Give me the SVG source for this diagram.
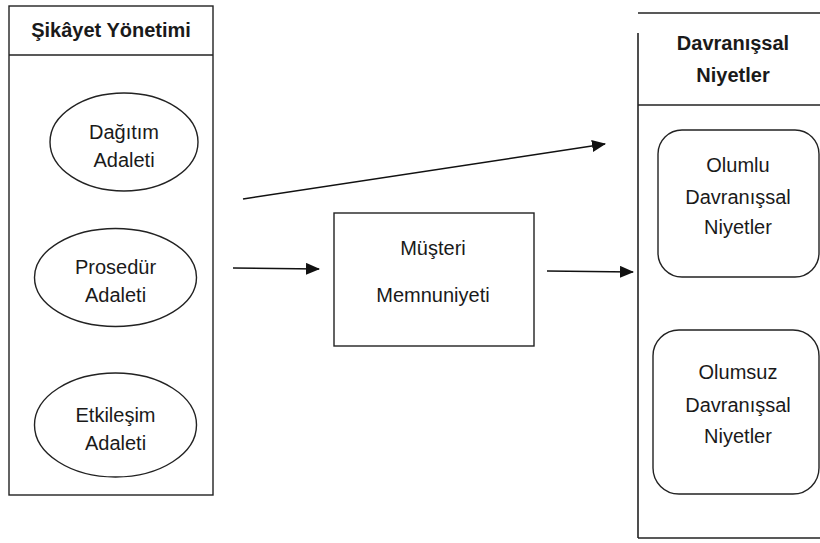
<svg xmlns="http://www.w3.org/2000/svg" width="820" height="543" viewBox="0 0 820 543">
<style>
.s{fill:none;stroke:#222;stroke-width:1.4}
.t{font-family:"Liberation Sans",Arial,sans-serif;font-size:20px;fill:#1a1a1a;text-anchor:middle}
.b{font-weight:bold}
.c{stroke:#111;stroke-width:1.5;fill:none}
</style>
<defs>
<marker id="ah" markerWidth="14" markerHeight="12" refX="13" refY="6" orient="auto" markerUnits="userSpaceOnUse">
<path d="M0,0 L14,6 L0,12 Z" fill="#111"/>
</marker>
</defs>
<rect width="820" height="543" fill="#fff"/>
<g id="sikayet">
<rect class="s" x="9" y="6" width="204" height="489"/>
<line class="s" x1="9" y1="55" x2="213" y2="55"/>
<text class="t b" x="111" y="37">Şikâyet Yönetimi</text>
</g>
<g id="dagitim">
<ellipse class="s" cx="124" cy="142" rx="74" ry="49"/>
<text class="t" x="124" y="139">Dağıtım</text>
<text class="t" x="124" y="167">Adaleti</text>
</g>
<g id="prosedur">
<ellipse class="s" cx="115.5" cy="277.5" rx="81" ry="49"/>
<text class="t" x="115.5" y="274">Prosedür</text>
<text class="t" x="115.5" y="302">Adaleti</text>
</g>
<g id="etkilesim">
<ellipse class="s" cx="115.5" cy="425" rx="81" ry="52"/>
<text class="t" x="115.5" y="422">Etkileşim</text>
<text class="t" x="115.5" y="450">Adaleti</text>
</g>
<g id="memnuniyet">
<rect class="s" x="334" y="213" width="200" height="133"/>
<text class="t" x="433" y="255">Müşteri</text>
<text class="t" x="433" y="302">Memnuniyeti</text>
</g>
<g id="davranissal">
<line class="s" x1="638" y1="13" x2="820" y2="13"/>
<line class="s" x1="638" y1="33" x2="638" y2="538" style="stroke-width:1.6"/>
<line class="s" x1="638" y1="538" x2="820" y2="538"/>
<line class="s" x1="638" y1="105" x2="820" y2="105"/>
<text class="t b" x="733" y="50">Davranışsal</text>
<text class="t b" x="733" y="82">Niyetler</text>
</g>
<g id="olumlu">
<rect class="s" x="658" y="130" width="161" height="147" rx="24" ry="24"/>
<text class="t" x="738" y="172">Olumlu</text>
<text class="t" x="738" y="204">Davranışsal</text>
<text class="t" x="738" y="234">Niyetler</text>
</g>
<g id="olumsuz">
<rect class="s" x="653" y="330" width="166" height="164" rx="26" ry="26"/>
<text class="t" x="738" y="379">Olumsuz</text>
<text class="t" x="738" y="412">Davranışsal</text>
<text class="t" x="738" y="443">Niyetler</text>
</g>
<g id="connectors">
<line class="c" x1="243" y1="199" x2="605" y2="144" marker-end="url(#ah)"/>
<line class="c" x1="233" y1="268" x2="319" y2="269" marker-end="url(#ah)"/>
<line class="c" x1="547" y1="271" x2="633" y2="272" marker-end="url(#ah)"/>
</g>
</svg>
